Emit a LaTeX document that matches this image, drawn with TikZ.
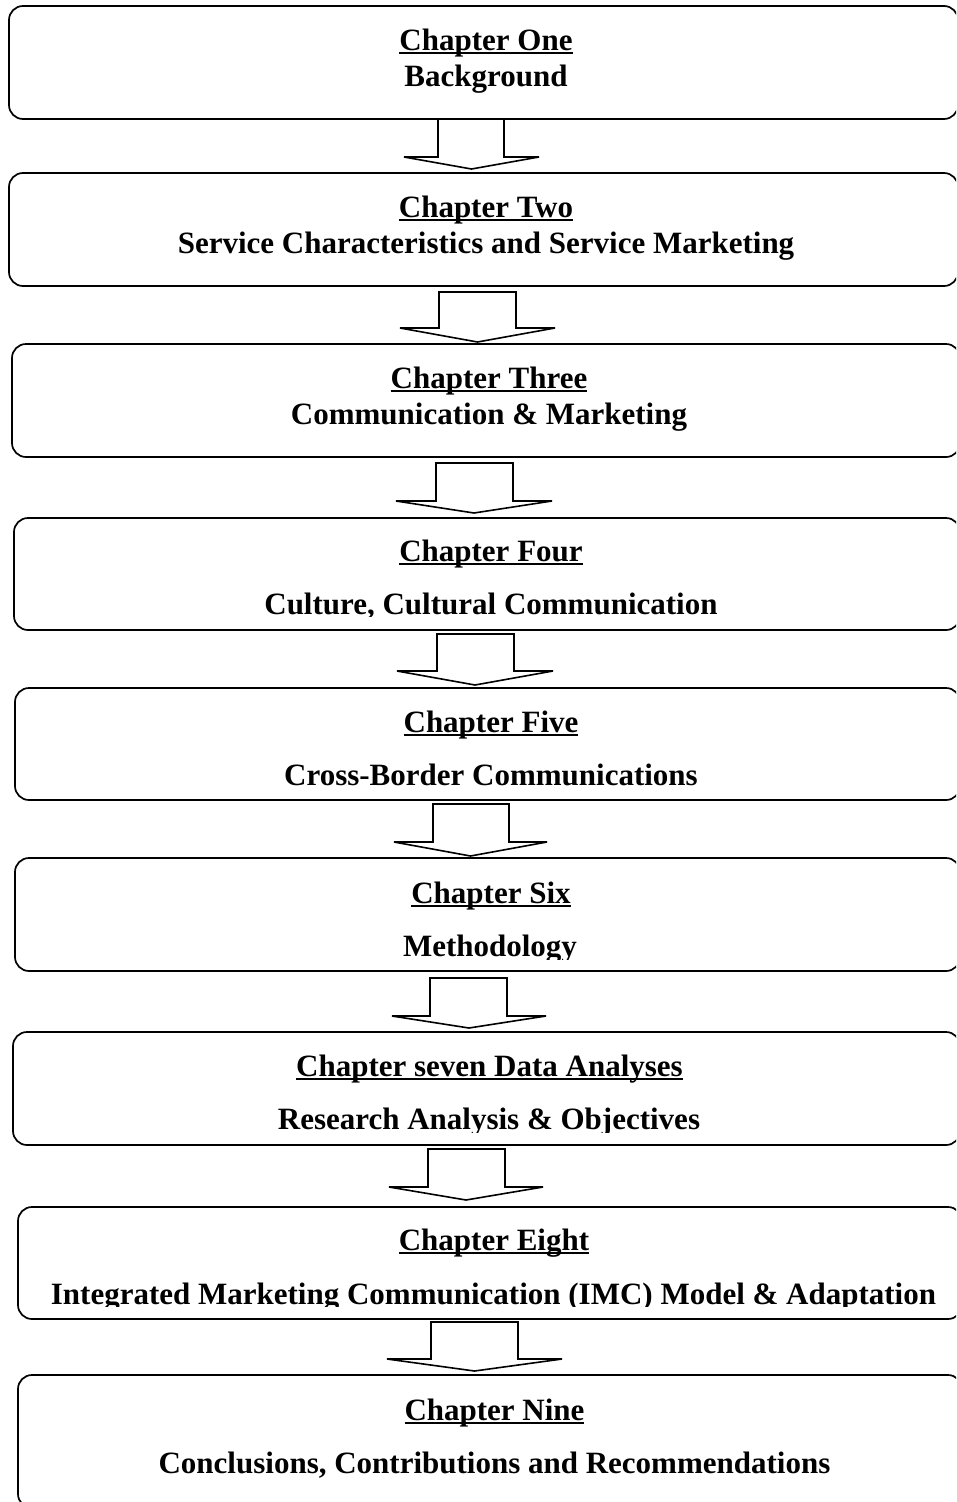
\documentclass[tikz,border=0pt]{standalone}
\usepackage{fontspec}
\setmainfont{Liberation Serif}
\begin{document}
\begin{tikzpicture}[x=1pt,y=-1pt,
  chapbox/.style={draw=black, line width=1.7pt, rounded corners=14pt, fill=none,
    inner sep=0pt, outer sep=0pt, anchor=north west},
  blockarrow/.style={draw=black, line width=1.6pt, line join=miter, fill=white},
  chaptext/.style={font=\fontsize{31}{36}\selectfont\bfseries, anchor=base, inner sep=0pt}]
% underline drawn at a fixed depth below the baseline
\newcommand\chapul[1]{\setbox0\hbox{#1}\rlap{\rule[-4pt]{\wd0}{1.8pt}}\box0}
% rounded chapter frame: name, left, top, right, bottom
\newcommand\chapframe[5]{\node[chapbox, minimum width={(#4-#2)*1pt}, minimum height={(#5-#3)*1pt}] (#1) at (#2,#3) {};}
% hollow block arrow: name, top, shaft left, shaft right, head y, head left, head right, tip y
\newcommand\downblock[8]{%
  \coordinate (#1) at ({(#6+#7)/2},#8);
  \draw[blockarrow] (#3,#2) -- (#3,#5) -- (#6,#5) -- (#1) -- (#7,#5) -- (#4,#5) -- (#4,#2) -- cycle;}

\useasboundingbox (0,0) rectangle (956,1502);
\clip (0,0) rectangle (956,1502);
\fill[white] (0,0) rectangle (956,1502);

% chapter frames
\chapframe{c1}{9}{6}{958}{119}
\chapframe{c2}{9}{173}{958}{286}
\chapframe{c3}{12}{344}{960}{457}
\chapframe{c4}{14}{518}{960}{630}
\chapframe{c5}{15}{688}{960}{800}
\chapframe{c6}{15}{858}{960}{971}
\chapframe{c7}{13}{1032}{960}{1145}
\chapframe{c8}{18}{1207}{962}{1319}
\chapframe{c9}{18}{1375}{962}{1508}

% arrows between chapters
\downblock{a1}{119}{438}{504}{157}{404}{539}{169}
\downblock{a2}{292}{439}{516}{328}{400}{555}{342}
\downblock{a3}{463}{436}{513}{501}{396}{552}{513}
\downblock{a4}{634}{437}{514}{671}{397}{553}{685}
\downblock{a5}{804}{433}{509}{842}{394}{547}{856}
\downblock{a6}{978}{430}{507}{1016}{392}{546}{1028}
\downblock{a7}{1149}{428}{505}{1187}{389}{543}{1200}
\downblock{a8}{1322}{431}{518}{1359}{387}{562}{1371}

% chapter titles and subjects
\node[chaptext] (t1) at (486,50) {\chapul{Chapter One}};
\node[chaptext] (s1) at (486,86) {Background};
\node[chaptext] (t2) at (486,217) {\chapul{Chapter Two}};
\node[chaptext] (s2) at (486,253) {Service Characteristics and Service Marketing};
\node[chaptext] (t3) at (489,388) {\chapul{Chapter Three}};
\node[chaptext] (s3) at (489,424) {Communication \& Marketing};
\node[chaptext] (t4) at (491,561) {\chapul{Chapter Four}};
\begin{scope}
  \clip (0,0) rectangle (956,616);
  \node[chaptext] (s4) at (491,614) {Culture, Cultural Communication};
\end{scope}
\node[chaptext] (t5) at (491,732) {\chapul{Chapter Five}};
\node[chaptext] (s5) at (491,785) {Cross-Border Communications};
\node[chaptext] (t6) at (491,903) {\chapul{Chapter Six}};
\begin{scope}
  \clip (0,0) rectangle (956,959);
  \node[chaptext] (s6) at (490,956) {Methodology};
\end{scope}
\node[chaptext] (t7) at (489.5,1076) {\chapul{Chapter seven Data Analyses}};
\begin{scope}
  \clip (0,0) rectangle (956,1132);
  \node[chaptext] (s7) at (489,1129) {Research Analysis \& Objectives};
\end{scope}
\node[chaptext] (t8) at (494,1250) {\chapul{Chapter Eight}};
\begin{scope}
  \clip (0,0) rectangle (956,1306);
  \node[chaptext] (s8) at (493.5,1304) {Integrated Marketing Communication (IMC) Model \& Adaptation};
\end{scope}
\node[chaptext] (t9) at (494.5,1420) {\chapul{Chapter Nine}};
\node[chaptext] (s9) at (494.5,1473) {Conclusions, Contributions and Recommendations};
\end{tikzpicture}
\end{document}
